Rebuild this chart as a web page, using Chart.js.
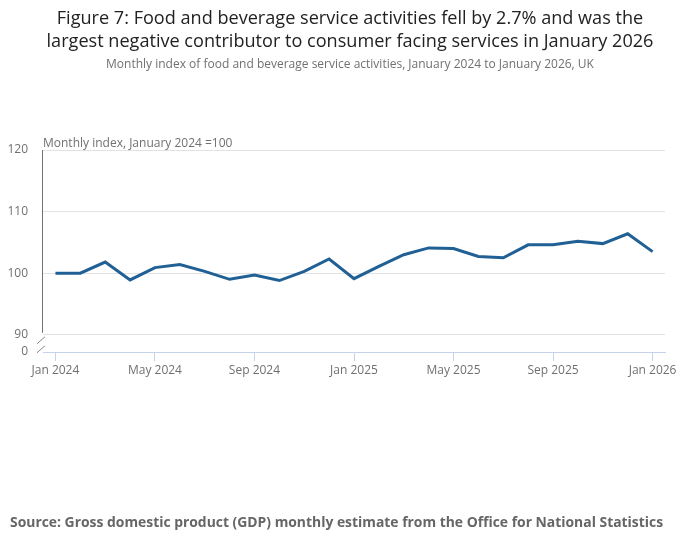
<!DOCTYPE html>
<html>
<head>
<meta charset="utf-8">
<script src="https://cdn.jsdelivr.net/npm/chart.js@4"></script>
<style>
  body { margin: 0; background: #fff; }
  #wrap { position: relative; width: 700px; height: 549px; font-family: "Open Sans", sans-serif; }
  canvas { position: absolute; left: 0; top: 0; }
  .txt { position: absolute; left: 0; width: 700px; text-align: center; white-space: nowrap; }
  #title { top: 6px; font-size: 18.1px; line-height: 22.5px; color: #222; }
  #subtitle { top: 55px; font-size: 12px; color: #707070; }
  #ytitle { position: absolute; left: 43px; top: 134px; font-size: 12px; color: #707070; white-space: nowrap; }
  #source { top: 512px; left: 10px; text-align: left; font-size: 13.9px; font-weight: bold; color: #666; }
</style>
</head>
<body>
<div id="wrap">
  <canvas id="myChart" width="700" height="549"></canvas>
  <div class="txt" id="title">Figure 7: Food and beverage service activities fell by 2.7% and was the<br>largest negative contributor to consumer facing services in January 2026</div>
  <div class="txt" id="subtitle">Monthly index of food and beverage service activities, January 2024 to January 2026, UK</div>
  <div id="ytitle">Monthly index, January 2024 =100</div>
  <div class="txt" id="source">Source: Gross domestic product (GDP) monthly estimate from the Office for National Statistics</div>
</div>
<script>
// Данные
const months = [
  "Jan 2024", "Feb 2024", "Mar 2024", "Apr 2024", "May 2024", "Jun 2024",
  "Jul 2024", "Aug 2024", "Sep 2024", "Oct 2024", "Nov 2024", "Dec 2024",
  "Jan 2025", "Feb 2025", "Mar 2025", "Apr 2025", "May 2025", "Jun 2025",
  "Jul 2025", "Aug 2025", "Sep 2025", "Oct 2025", "Nov 2025", "Dec 2025",
  "Jan 2026"
];
const foodIndex = [
  100.0, 100.0, 101.8, 98.9, 100.9, 101.4,
  100.3, 99.0, 99.7, 98.8, 100.3, 102.3,
  99.1, 101.1, 103.0, 104.1, 104.0, 102.7,
  102.5, 104.6, 104.6, 105.2, 104.8, 106.4,
  103.5
];
const yTicks = [90, 100, 110, 120];
const yBreakMin = 87.2;   // низ оси после разрыва, подписан как 0

const lineColor = "#206095";
const gridColor = "#e2e2e2";
const xAxisColor = "#c5d3ea";

// левая ось + значок разрыва
const breakPlugin = {
  id: "axisBreak",
  afterDraw(chart) {
    const c = chart.ctx;
    const y = chart.scales.y;
    const left = chart.chartArea.left;
    const y90 = y.getPixelForValue(90);
    c.save();
    c.strokeStyle = "#707070";
    c.lineWidth = 1;
    c.beginPath();
    c.moveTo(left - 0.5, chart.chartArea.top);
    c.lineTo(left - 0.5, y90 - 2);
    c.stroke();
    c.strokeStyle = "#888";
    c.beginPath();
    c.moveTo(left - 6, y90 + 9);
    c.lineTo(left + 2, y90 + 2);
    c.moveTo(left - 6, y90 + 18);
    c.lineTo(left + 2, y90 + 11);
    c.stroke();
    c.restore();
  }
};

const ctx = document.getElementById("myChart").getContext("2d");
new Chart(ctx, {
  type: "line",
  data: {
    labels: months,
    datasets: [{
      label: "Food and beverage service activities",
      data: foodIndex,
      borderColor: lineColor,
      borderWidth: 3,
      pointRadius: 0,
      tension: 0,
      fill: false
    }]
  },
  options: {
    responsive: false,
    animation: false,
    layout: { padding: { top: 150, right: 35, left: 0, bottom: 0 } },
    plugins: {
      legend: { display: false },
      tooltip: { enabled: false }
    },
    scales: {
      x: {
        type: "category",
        offset: true,
        afterFit(scale) { scale.height = 197; },
        border: { display: true, color: xAxisColor, width: 1 },
        grid: {
          offset: false,
          drawOnChartArea: false,
          tickLength: 9,
          color: (c) => (c.index % 4 === 0 ? xAxisColor : "rgba(0,0,0,0)")
        },
        ticks: {
          autoSkip: false,
          maxRotation: 0,
          padding: 2,
          color: "#707070",
          font: { family: "Open Sans", size: 12 },
          callback: (v, i) => (i % 4 === 0 ? months[i] : "")
        }
      },
      y: {
        min: yBreakMin,
        max: 120,
        afterFit(scale) { scale.width = 43; },
        afterBuildTicks(scale) {
          scale.ticks = [yBreakMin].concat(yTicks).map(v => ({ value: v }));
        },
        border: { display: false },
        grid: {
          drawTicks: false,
          color: (c) => (c.tick && c.tick.value === yBreakMin ? "rgba(0,0,0,0)" : gridColor)
        },
        ticks: {
          padding: 15,
          color: "#707070",
          font: { family: "Open Sans", size: 12 },
          callback: (v) => (v === yBreakMin ? "0" : v)
        }
      }
    }
  },
  plugins: [breakPlugin]
});
</script>
</body>
</html>
